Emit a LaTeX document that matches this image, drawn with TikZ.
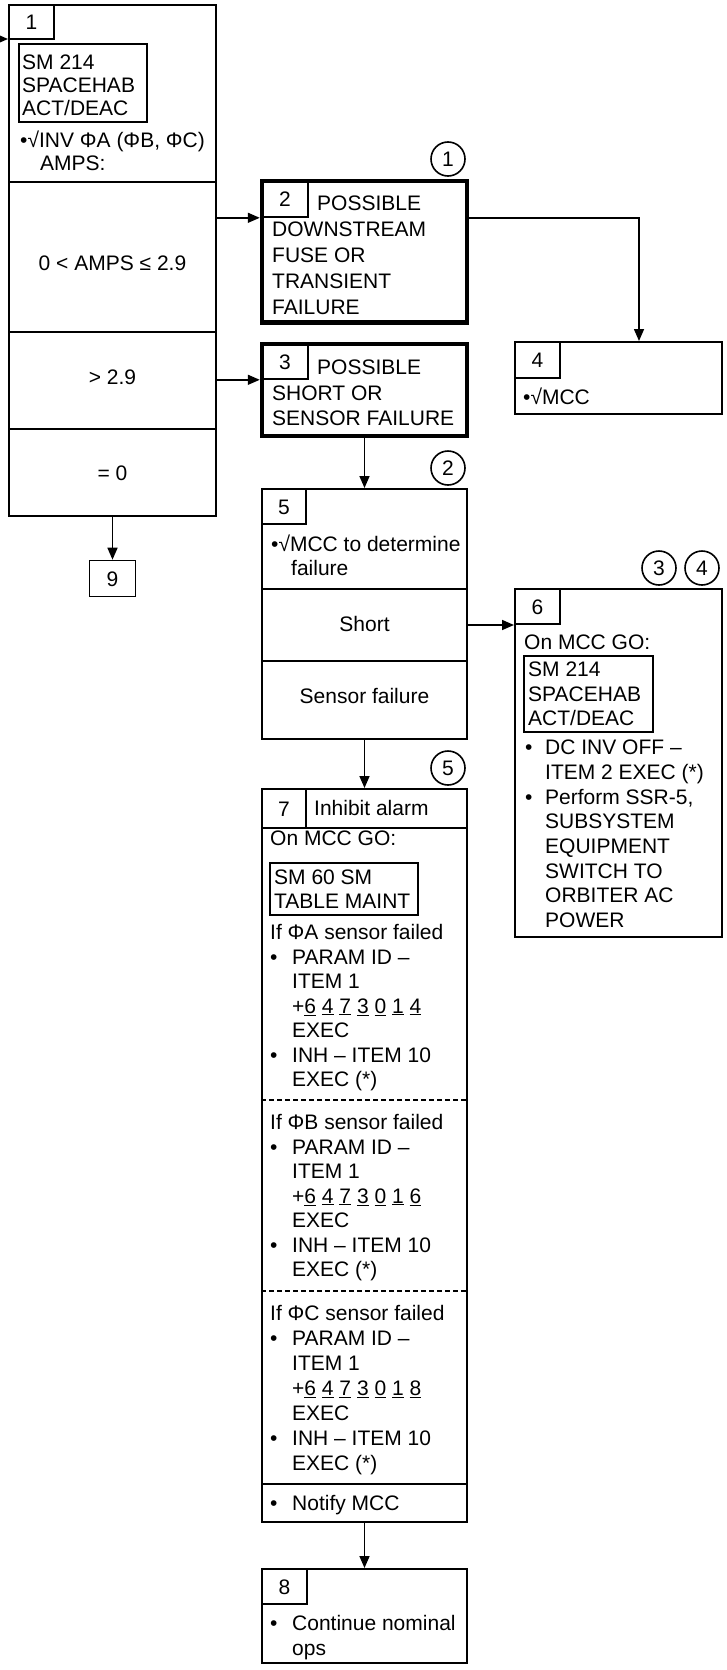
\documentclass[tikz,border=0pt]{standalone}
\usepackage{fontspec}
\setmainfont{Liberation Sans}
\usetikzlibrary{arrows.meta,positioning}
\newcommand\fcfont[1]{\fontsize{21}{#1}\selectfont}
\newcommand\lnstrut{\rule{0pt}{18pt}}
\newcommand\bul[1][22pt]{\makebox[#1][l]{•}}
\newcommand\udg[1]{\underline{#1}}
\tikzset{
  fc/cell/.style={draw, line width=2pt, inner sep=0pt, minimum width=205pt},
  fc/thick/.style={draw, line width=4.5pt, inner sep=0pt, minimum width=205pt},
  fc/tab/.style={draw, line width=1.6pt, inner sep=0pt, text height=15pt, text depth=0pt},
  fc/sm/.style={draw, line width=2pt, inner sep=0pt},
  fc/txt/.style={anchor=north west, inner sep=0pt, align=left},
  fc/lbl/.style={inner sep=0pt, text height=15pt, text depth=0pt},
  fc/circ/.style={draw, circle, line width=1.6pt, minimum size=34pt, inner sep=0pt, text height=15pt, text depth=0pt},
  fc/dash/.style={line width=2pt, dash pattern=on 5pt off 3pt},
  arr/.style={-{Triangle[length=12pt,width=10pt]}, line width=1.6pt}
}
\begin{document}
\begin{tikzpicture}[x=1pt, y=-1pt, font=\fcfont{24.5}]
\useasboundingbox (0,0) rectangle (727,1670);

% block 1: inverter amps
\node[fc/cell, minimum width=207pt, minimum height=177pt] (b1a) at (112.5,93.5) {};
\node[fc/cell, minimum width=207pt, minimum height=150pt] (b1b) at (112.5,257) {};
\node[fc/cell, minimum width=207pt, minimum height=97pt] (b1c) at (112.5,380.5) {};
\node[fc/cell, minimum width=207pt, minimum height=87pt] (b1d) at (112.5,472.5) {};
\node[fc/tab, minimum width=45pt, minimum height=34pt] (t1) at (31.5,22) {1};
\node[fc/sm, minimum width=128pt, minimum height=78pt] (s1) at (83,83) {};
\node[fc/txt, font=\fcfont{23}] (x1s) at (22,51.5) {\lnstrut SM 214\\SPACEHAB\\ACT/DEAC};
\node[fc/txt, font=\fcfont{23}] (x1a) at (20,129.5) {\lnstrut•√INV ΦA (ΦB, ΦC)\\\hspace*{20pt}AMPS:};
\node[fc/lbl] (x1b) at (112.5,263) {0 < AMPS ≤ 2.9};
\node[fc/lbl] (x1c) at (112.5,377) {> 2.9};
\node[fc/lbl] (x1d) at (112.5,473) {= 0};
\node[fc/tab, minimum width=46pt, minimum height=36pt] (b9) at (112.5,578.5) {9};

% blocks 2 and 3
\node[fc/thick, minimum height=141.5pt] (b2) at (364.5,251.75) {};
\node[fc/tab, minimum width=46pt, minimum height=36pt] (t2) at (285,199) {2};
\node[fc/txt, font=\fcfont{26}] (x2) at (272,192.5) {\lnstrut\hspace*{45pt}POSSIBLE\\DOWNSTREAM\\FUSE OR\\TRANSIENT\\FAILURE};
\node[fc/thick, minimum height=92pt] (b3) at (364.5,390) {};
\node[fc/tab, minimum width=46pt, minimum height=35pt] (t3) at (285,361.5) {3};
\node[fc/txt, font=\fcfont{25.5}] (x3) at (272,356.5) {\lnstrut\hspace*{45pt}POSSIBLE\\SHORT OR\\SENSOR FAILURE};

% block 4
\node[fc/cell, minimum width=207pt, minimum height=72pt] (b4) at (618.5,378) {};
\node[fc/tab, minimum width=45pt, minimum height=36pt] (t4) at (537.5,360) {4};
\node[fc/txt] (x4) at (523,386.5) {\lnstrut•√MCC};

% block 5
\node[fc/cell, minimum height=100pt] (b5a) at (364.5,539) {};
\node[fc/cell, minimum height=72pt] (b5b) at (364.5,625) {};
\node[fc/cell, minimum height=78pt] (b5c) at (364.5,700) {};
\node[fc/tab, minimum width=44pt, minimum height=35pt] (t5) at (284,506.5) {5};
\node[fc/txt, font=\fcfont{24}] (x5a) at (271,533.5) {\lnstrut•√MCC to determine\\\hspace*{20pt}failure};
\node[fc/lbl] (x5b) at (364.5,624) {Short};
\node[fc/lbl] (x5c) at (364.5,696) {Sensor failure};

% block 6
\node[fc/cell, minimum width=207pt, minimum height=348pt] (b6) at (618.5,763) {};
\node[fc/tab, minimum width=45pt, minimum height=35pt] (t6) at (537.5,606.5) {6};
\node[fc/txt] (x6a) at (524,631.5) {\lnstrut On MCC GO:};
\node[fc/sm, minimum width=129pt, minimum height=76pt] (s6) at (588.5,694) {};
\node[fc/txt] (x6s) at (528,658.5) {\lnstrut SM 214\\SPACEHAB\\ACT/DEAC};
\node[fc/txt, font=\fcfont{24.7}] (x6b) at (525,736.5) {\lnstrut\bul[20pt]DC INV OFF --\\\hspace*{20pt}ITEM 2 EXEC (*)\\\bul[20pt]Perform SSR-5,\\\hspace*{20pt}SUBSYSTEM\\\hspace*{20pt}EQUIPMENT\\\hspace*{20pt}SWITCH TO\\\hspace*{20pt}ORBITER AC\\\hspace*{20pt}POWER};

% block 7
\node[fc/cell, minimum height=39pt] (b7a) at (364.5,808.5) {};
\node[fc/cell, minimum height=656pt] (b7b) at (364.5,1156) {};
\node[fc/cell, minimum height=38pt] (b7c) at (364.5,1503) {};
\node[fc/tab, minimum width=44pt, minimum height=39pt] (t7) at (284,808.5) {7};
\node[fc/txt] (x7h) at (314,797.5) {\lnstrut Inhibit alarm};
\node[fc/txt] (x7g) at (270,827.5) {\lnstrut On MCC GO:};
\node[fc/sm, minimum width=148pt, minimum height=52pt] (s7) at (344,889) {};
\node[fc/txt, font=\fcfont{24}] (x7s) at (274,866.5) {\lnstrut SM 60 SM\\TABLE MAINT};
\node[fc/txt] (x7a) at (270,921.5) {\lnstrut If ΦA sensor failed\\\bul PARAM ID --\\\hspace*{22pt}ITEM 1\\\hspace*{22pt}+\udg6 \udg4 \udg7 \udg3 \udg0 \udg1 \udg4\\\hspace*{22pt}EXEC\\\bul INH -- ITEM 10\\\hspace*{22pt}EXEC (*)};
\draw[fc/dash] ([yshift=-273pt]b7b.north west) -- ([yshift=-273pt]b7b.north east);
\node[fc/txt] (x7b) at (270,1111.5) {\lnstrut If ΦB sensor failed\\\bul PARAM ID --\\\hspace*{22pt}ITEM 1\\\hspace*{22pt}+\udg6 \udg4 \udg7 \udg3 \udg0 \udg1 \udg6\\\hspace*{22pt}EXEC\\\bul INH -- ITEM 10\\\hspace*{22pt}EXEC (*)};
\draw[fc/dash] ([yshift=-464pt]b7b.north west) -- ([yshift=-464pt]b7b.north east);
\node[fc/txt, font=\fcfont{25}] (x7c) at (270,1302.5) {\lnstrut If ΦC sensor failed\\\bul PARAM ID --\\\hspace*{22pt}ITEM 1\\\hspace*{22pt}+\udg6 \udg4 \udg7 \udg3 \udg0 \udg1 \udg8\\\hspace*{22pt}EXEC\\\bul INH -- ITEM 10\\\hspace*{22pt}EXEC (*)};
\node[fc/txt] (x7n) at (270,1492.5) {\lnstrut\bul Notify MCC};

% block 8
\node[fc/cell, minimum height=94pt] (b8) at (364.5,1616) {};
\node[fc/tab, minimum width=45pt, minimum height=35pt] (t8) at (284.5,1586.5) {8};
\node[fc/txt, font=\fcfont{25}] (x8) at (270,1612.5) {\lnstrut\bul Continue nominal\\\hspace*{22pt}ops};

% notes
\node[fc/circ] (c1) at (448,159) {1};
\node[fc/circ] (c2) at (448,468) {2};
\node[fc/circ] (c3) at (659,568) {3};
\node[fc/circ] (c4) at (702,568) {4};
\node[fc/circ] (c5) at (448,768) {5};

% connectors
\coordinate (entry) at (-12,39);
\draw[arr] (entry) -- (entry -| b1a.west);
\draw[arr] (b1b.east |- t2.south) -- (b2.west |- t2.south);
\draw[arr] (b1c.east |- t3.south) -- (b3.west |- t3.south);
\draw[arr] (b1d.south) -- (b9.north);
\draw[arr] (b2.east |- t2.south) -| ([xshift=20.5pt]b4.north);
\draw[arr] (b3.south) -- (b5a.north);
\draw[arr] (b5b.east) -- (b6.west |- b5b.east);
\draw[arr] (b5c.south) -- (b7a.north);
\draw[arr] (b7c.south) -- (b8.north);
\end{tikzpicture}
\end{document}
